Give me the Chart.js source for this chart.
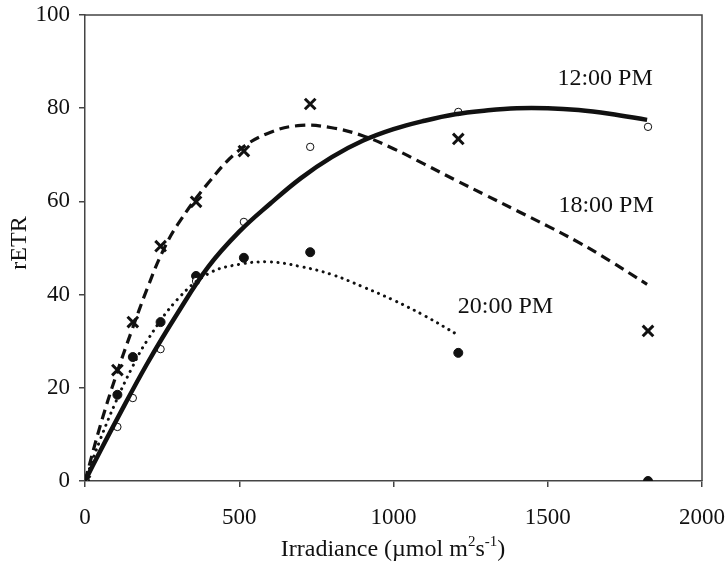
<!DOCTYPE html>
<html>
<head>
<meta charset="utf-8">
<script src="https://cdn.jsdelivr.net/npm/chart.js@4.4.0/dist/chart.umd.min.js"></script>
<style>
    html, body { margin: 0; padding: 0; background: #fff; }
    #wrap { width: 725px; height: 569px; }
</style>
</head>
<body>
<div id="wrap"><canvas id="etr"></canvas></div>
<script>
// measured points (irradiance, rETR)
const irradiance = [0, 105, 155, 245, 360, 515, 730, 1210, 1825];
const etrNoon = [0, 11.6, 17.8, 28.3, 42.9, 55.6, 71.7, 79.2, 76];
const etr18 = [0, 23.8, 34.1, 50.4, 59.9, 70.8, 80.9, 73.4, 32.2];
const etr20 = [0, 18.5, 26.6, 34.1, 44, 47.9, 49.1, 27.5, 0];

// fitted curves
const fitNoonX = [0, 50, 100, 200, 300, 400, 500, 600, 700, 800, 900, 1000, 1100, 1200, 1300, 1400, 1500, 1600, 1700, 1822];
const fitNoonY = [0, 6.5, 12.8, 25, 36, 46, 53.5, 59.5, 65, 69.5, 73, 75.5, 77.3, 78.7, 79.5, 80, 80, 79.6, 78.8, 77.5];
const fit18X = [0, 50, 100, 150, 200, 250, 300, 400, 500, 600, 700, 800, 900, 1000, 1100, 1200, 1300, 1400, 1500, 1600, 1700, 1822];
const fit18Y = [0, 12, 22.5, 32, 41, 49, 55, 64, 71, 74.8, 76.3, 75.8, 74.1, 71.3, 68, 64.6, 61.3, 58, 54.7, 51.2, 47.3, 42.2];
const fit20X = [0, 50, 100, 150, 200, 300, 400, 500, 600, 700, 800, 900, 1000, 1100, 1210];
const fit20Y = [0, 9, 17, 24, 30, 39, 44.5, 46.5, 47, 46, 44.3, 41.7, 38.8, 35.5, 31.3];

const curveNames = ['12:00 PM', '18:00 PM', '20:00 PM'];
const curveLabelX = [1686, 1689, 1363];
const curveLabelY = [86.3, 59.1, 37.4];

const xTicks = [0, 500, 1000, 1500, 2000];
const yTicks = [0, 20, 40, 60, 80, 100];

const ink = '#111';
const axisInk = '#444';
const serif = '"Liberation Serif", "DejaVu Serif", serif';

function pairs(xs, ys) {
    return xs.map((x, i) => ({x: x, y: ys[i]}));
}

const boxPlugin = {
    id: 'box',
    afterDraw(chart) {
        const {ctx, chartArea: a, scales} = chart;
        ctx.save();
        ctx.strokeStyle = axisInk;
        ctx.lineWidth = 1.5;
        ctx.beginPath();
        ctx.moveTo(a.left, a.top);
        ctx.lineTo(a.right, a.top);
        ctx.lineTo(a.right, a.bottom);
        ctx.stroke();

        ctx.fillStyle = ink;
        ctx.font = '24px ' + serif;
        ctx.textAlign = 'center';
        ctx.textBaseline = 'middle';
        curveNames.forEach((t, i) => {
            ctx.fillText(t, scales.x.getPixelForValue(curveLabelX[i]), scales.y.getPixelForValue(curveLabelY[i]));
        });

        // axis titles with superscripts
        ctx.textBaseline = 'alphabetic';
        ctx.textAlign = 'left';
        const parts = [['Irradiance (\u00b5mol m', 0], ['2', 1], ['s', 0], ['-1', 1], [')', 0]];
        let w = 0;
        parts.forEach(p => {
            ctx.font = (p[1] ? '15px ' : '24px ') + serif;
            w += ctx.measureText(p[0]).width;
        });
        let x = 393 - w / 2;
        const base = 556;
        parts.forEach(p => {
            ctx.font = (p[1] ? '15px ' : '24px ') + serif;
            ctx.fillText(p[0], x, p[1] ? base - 10 : base);
            x += ctx.measureText(p[0]).width;
        });

        ctx.save();
        ctx.translate(20, 243);
        ctx.rotate(-Math.PI / 2);
        ctx.textAlign = 'center';
        ctx.textBaseline = 'middle';
        ctx.font = '24px ' + serif;
        ctx.fillText('rETR', 0, 0);
        ctx.restore();
        ctx.restore();
    }
};

new Chart(document.getElementById('etr'), {
    type: 'scatter',
    data: {
        datasets: [
            {
                label: '12:00 PM fit',
                data: pairs(fitNoonX, fitNoonY),
                showLine: true,
                borderColor: ink,
                borderWidth: 4.5,
                pointRadius: 0,
                tension: 0.4
            },
            {
                label: '18:00 PM fit',
                data: pairs(fit18X, fit18Y),
                showLine: true,
                borderColor: ink,
                borderWidth: 3.2,
                borderDash: [10, 6],
                pointRadius: 0,
                tension: 0.4
            },
            {
                label: '20:00 PM fit',
                data: pairs(fit20X, fit20Y),
                showLine: true,
                borderColor: ink,
                borderWidth: 3,
                borderDash: [0.1, 6.5],
                borderCapStyle: 'round',
                pointRadius: 0,
                tension: 0.4
            },
            {
                label: '12:00 PM',
                data: pairs(irradiance, etrNoon),
                pointStyle: 'circle',
                pointRadius: 3.7,
                backgroundColor: '#fff',
                borderColor: ink,
                borderWidth: 1
            },
            {
                label: '18:00 PM',
                data: pairs(irradiance, etr18),
                pointStyle: 'crossRot',
                pointRadius: 7.5,
                borderColor: ink,
                borderWidth: 3
            },
            {
                label: '20:00 PM',
                data: pairs(irradiance, etr20),
                pointStyle: 'circle',
                pointRadius: 4.5,
                backgroundColor: ink,
                borderColor: ink,
                borderWidth: 1
            }
        ]
    },
    options: {
        responsive: true,
        maintainAspectRatio: false,
        animation: false,
        layout: { padding: { top: 15, right: 23, left: 0, bottom: 0 } },
        plugins: {
            legend: { display: false },
            tooltip: { enabled: false }
        },
        scales: {
            x: {
                type: 'linear',
                min: 0,
                max: 2000,
                afterFit(scale) {
                    scale.height = 88;
                    scale.paddingLeft = 0;
                    scale.paddingRight = 0;
                },
                afterBuildTicks(scale) { scale.ticks = xTicks.map(v => ({value: v})); },
                border: { display: true, color: axisInk, width: 1.5 },
                grid: { display: true, drawOnChartArea: false, drawTicks: true, tickLength: 6, color: axisInk, lineWidth: 1.5 },
                ticks: { color: ink, padding: 17, maxRotation: 0, font: { family: serif, size: 23 }, callback: v => String(v) }
            },
            y: {
                min: 0,
                max: 100,
                afterFit(scale) {
                    scale.width = 85;
                    scale.paddingTop = 0;
                    scale.paddingBottom = 0;
                },
                afterBuildTicks(scale) { scale.ticks = yTicks.map(v => ({value: v})); },
                border: { display: true, color: axisInk, width: 1.5 },
                grid: { display: true, drawOnChartArea: false, drawTicks: true, tickLength: 6, color: axisInk, lineWidth: 1.5 },
                ticks: { color: ink, padding: 9, font: { family: serif, size: 23 }, callback: v => String(v) }
            }
        }
    },
    plugins: [boxPlugin]
});
</script>
</body>
</html>
